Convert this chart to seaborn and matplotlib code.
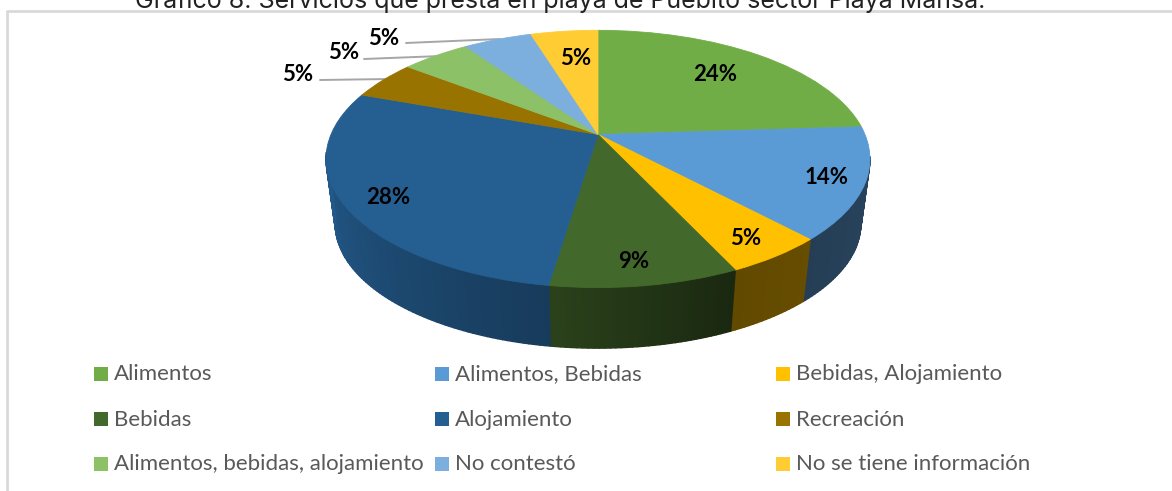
import numpy as np
import seaborn as sns
import matplotlib.pyplot as plt
from matplotlib.collections import PolyCollection
from matplotlib.lines import Line2D
from matplotlib.transforms import Transform

# Chart data
categories = ['Alimentos', 'Alimentos, Bebidas', 'Bebidas, Alojamiento',
              'Bebidas', 'Alojamiento', 'Recreación',
              'Alimentos, bebidas, alojamiento', 'No contestó', 'No se tiene información']
values = [24, 14, 5, 9.4, 28.1, 4.9, 4.9, 4.9, 4.8]
colors = ['#70ad47', '#5b9bd5', '#ffc000', '#43682b', '#255e91',
          '#997300', '#8cc168', '#7cafdd', '#ffcd33']
title = 'Gráfico 8. Servicios que presta en playa de Puebito sector Playa Mansa.'

sns.set_theme(style='white')
plt.rcParams['font.family'] = ['Lato', 'DejaVu Sans']
palette = sns.color_palette(colors)

W, H = 1172, 491
fig = plt.figure(figsize=(W / 100, H / 100), dpi=100)
ax = fig.add_axes([0, 0, 1, 1])


# perspective tilt of the unit pie into image pixels
K = 0.19
class Tilt(Transform):
    input_dims = output_dims = 2

    def __init__(self, cx, cy, bx, by):
        super().__init__()
        self.p = (cx, cy, bx, by)

    def transform_non_affine(self, xy):
        cx, cy, bx, by = self.p
        xy = np.asarray(xy)
        w = 1 + K * xy[:, 1]
        return np.column_stack([cx + bx * xy[:, 0] / w, cy - by * xy[:, 1] / w])


top = Tilt(598, 134.5, 267, 124)
bottom = Tilt(598, 200, 258, 120)

# Top face comes from a normal pie, the wedges only get the tilt on top
wedges, _ = ax.pie(values, colors=palette, startangle=90, counterclock=False,
                   wedgeprops={'linewidth': 0}, normalize=True)
ax.set_aspect('auto')
ax.set_xlim(0, W)
ax.set_ylim(H, 0)
ax.axis('off')
for w in wedges:
    w.set_transform(top + ax.transData)
    w.set_zorder(3)
    w.set_clip_on(False)
    # same colour edge closes the light seams between slices
    w.set_edgecolor(w.get_facecolor())
    w.set_linewidth(0.6)

# Side wall, thin strips shaded by angle, front half only
edges = np.cumsum([0] + values) / sum(values) * 360
quads, quad_cols = [], []
for i in range(len(values)):
    lo, hi = max(edges[i], 100), min(edges[i + 1], 262)
    if hi <= lo:
        continue
    ang = np.append(np.arange(lo, hi, 1.0), hi)
    for a0, a1 in zip(ang[:-1], ang[1:]):
        t = np.radians([a0, a1])
        ring = np.column_stack([np.sin(t), np.cos(t)])
        up, dn = top.transform(ring), bottom.transform(ring)
        quads.append([up[0], up[1], dn[1], dn[0]])
        shade = np.interp((a0 + a1) / 2, [100, 120, 155, 187, 262],
                          [0.43, 0.42, 0.38, 0.62, 0.95])
        quad_cols.append(np.array(palette[i]) * shade)
# wide edges hide the seams between strips
ax.add_collection(PolyCollection(quads, facecolors=quad_cols, edgecolors=quad_cols,
                                 linewidths=1.0, zorder=2))

# Percentage labels
label_pos = [(715, 73), (827, 176), (746, 237), (634, 261), (388, 197),
             (298, 73), (344, 51), (384, 37), (576, 57)]
for v, (x, y) in zip(values, label_pos):
    ax.text(x, y + 1, f'{v:.0f}%', ha='center', va='center', fontsize=16,
            fontweight='bold', color='black', zorder=5)

# Leader lines for the three small slices
for xs, ys in [((320, 389), (80, 79)), ((364, 441), (59, 56)), ((406, 500), (43, 39))]:
    ax.add_line(Line2D(xs, ys, color='#a6a6a6', lw=1.4, zorder=1))

# Legend, fixed 3x3 grid
leg_x = [94, 435, 776]
leg_y = [373, 418, 463]
for i, name in enumerate(categories):
    x, y = leg_x[i % 3], leg_y[i // 3]
    ax.scatter([x + 7], [y + 1], marker='s', s=115, color=palette[i], linewidths=0, zorder=4)
    ax.text(x + 20, y + 1.5, name, ha='left', va='center', fontsize=16, color='#595959')

# Chart frame, only top and left are visible
ax.add_line(Line2D([7, 7, W], [H, 11, 11], color='#d9d9d9', lw=2, zorder=1))

ax.text(560, 1, title, ha='center', va='center', fontsize=18, color='#222222',
        family=['Inter', 'DejaVu Sans'], clip_on=True)

fig.savefig('out.png', dpi=100)
